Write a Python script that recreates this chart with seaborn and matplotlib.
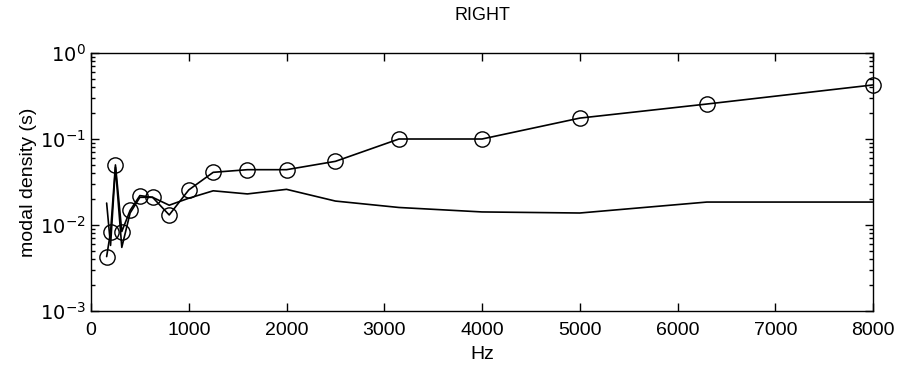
import numpy as np
import matplotlib
matplotlib.use("Agg")
import matplotlib.pyplot as plt
import seaborn as sns
import pandas as pd

# 1/3 octave centre frequencies
freqs = [160, 200, 250, 315, 400, 500, 630, 800, 1000, 1250, 1600,
         2000, 2500, 3150, 4000, 5000, 6300, 8000]

# measured modal density (circles)
measured = [0.0043, 0.0083, 0.050, 0.0084, 0.0148, 0.022, 0.021, 0.0131,
            0.0256, 0.041, 0.044, 0.044, 0.055, 0.10, 0.10, 0.175, 0.255, 0.425]

# predicted modal density (plain line)
predicted = [0.018, 0.0058, 0.047, 0.0055, 0.0138, 0.021, 0.021, 0.017,
             0.0205, 0.025, 0.023, 0.026, 0.019, 0.016, 0.0142, 0.0138, 0.0185, 0.0185]

df = pd.DataFrame({"Hz": freqs, "measured": measured, "predicted": predicted})

sns.set_style("ticks")
plt.rcParams['font.family'] = ['Liberation Sans', 'DejaVu Sans']
plt.rcParams['text.color'] = 'black'
plt.rcParams['axes.labelcolor'] = 'black'
plt.rcParams['xtick.color'] = 'black'
plt.rcParams['ytick.color'] = 'black'

fig = plt.figure(figsize=(9.01, 3.73), dpi=100)
ax = fig.add_axes([0.101, 0.166, 0.868, 0.692])

sns.lineplot(data=df, x="Hz", y="measured", ax=ax, color="black", lw=1.2,
             marker="o", markersize=11, markerfacecolor="none",
             markeredgecolor="black", markeredgewidth=1.0, clip_on=False)
sns.lineplot(data=df, x="Hz", y="predicted", ax=ax, color="black", lw=1.2)

ax.set_yscale("log")
ax.set_ylim(1e-3, 1)
ax.set_xlim(0, 8000)
ax.set_xticks(range(0, 8001, 1000))
ax.set_yticks([1e-3, 1e-2, 1e-1, 1])
ax.set_yticklabels([r"$10^{-3}$", r"$10^{-2}$", r"$10^{-1}$", r"$10^{0}$"])

ax.tick_params(which="both", direction="in", top=True, right=True,
               labelsize=14, width=1)
ax.tick_params(which="major", length=6)
ax.tick_params(which="minor", length=3)
ax.tick_params(axis="x", pad=8)
for s in ax.spines.values():
    s.set_linewidth(1)
    s.set_color("black")

ax.set_xlabel("Hz", fontsize=14, labelpad=5)
ax.set_ylabel("modal density (s)", fontsize=14, labelpad=2)
ax.set_title("RIGHT", fontsize=13, pad=24)

fig.savefig("out.png", dpi=100)
